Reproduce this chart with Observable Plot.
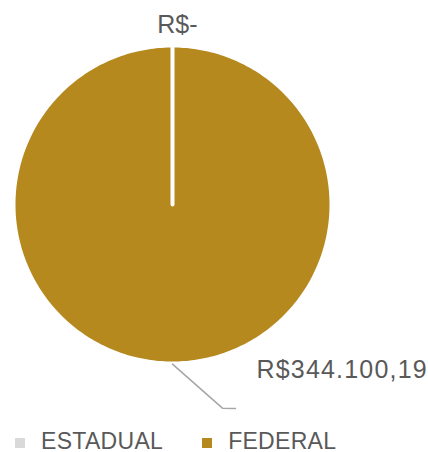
<!DOCTYPE html>
<html><head><meta charset="utf-8">
<script src="https://cdn.jsdelivr.net/npm/d3@7"></script>
<script src="https://cdn.jsdelivr.net/npm/@observablehq/plot@0.6"></script>
<style>
html,body{margin:0;padding:0;background:#fff;}
#chart{width:428px;height:452px;overflow:hidden;font-family:"Liberation Sans",Arial,sans-serif;}
#legend{display:flex;align-items:center;height:28px;margin-top:3px;margin-left:15px;font-size:23px;color:#595959;letter-spacing:0.3px;}
#legend .item{display:flex;align-items:center;margin-right:39px;}
#legend .sw{width:10px;height:10px;margin-right:16px;margin-top:4px;}
</style>
</head><body><div id="chart"></div>
<script>
const categorias = ["ESTADUAL", "FEDERAL"];
const valores = [0, 344100.19];
const rotulos = ["R$-", "R$344.100,19"];
const cores = ["#D9D9D9", "#B5891E"];

const pie = d3.pie().sort(null).value(d => d.valor)(categorias.map((c, i) => ({cat: c, valor: valores[i], rotulo: rotulos[i]})));

function ring(cat, a0, a1) {
  const pts = [{cat, x: 0, y: 0}];
  const n = Math.max(2, Math.ceil((a1 - a0) / (Math.PI / 180)));
  for (let k = 0; k <= n; k++) {
    const a = a0 + (a1 - a0) * k / n;
    pts.push({cat, x: Math.sin(a), y: Math.cos(a)});
  }
  pts.push({cat, x: 0, y: 0});
  return pts;
}
const slicePts = pie.flatMap(p => ring(p.data.cat, p.startAngle, p.endAngle));

const labels = pie.map(p => ({m: (p.startAngle + p.endAngle) / 2, text: p.data.rotulo, zero: p.value === 0}));
const topLabel = labels.filter(d => d.zero).map(d => ({x: Math.sin(d.m) + 0.031, y: Math.cos(d.m) * 1.129, text: d.text}));
const bigLabel = labels.filter(d => !d.zero).map(d => ({x: Math.sin(d.m) + 0.528, y: Math.cos(d.m) * 1.044, text: d.text}));
const leader = labels.filter(d => !d.zero).flatMap(d => {
  const sx = Math.sin(d.m), sy = Math.cos(d.m);
  return [{x: sx * 1.004, y: sy * 1.004}, {x: sx + 0.314, y: sy * 1.281}, {x: sx + 0.396, y: sy * 1.283}];
});

const plot = Plot.plot({
  width: 428,
  height: 424,
  marginLeft: 13, marginRight: 97, marginTop: 45, marginBottom: 61,
  x: {domain: [-1, 1], axis: null},
  y: {domain: [-1, 1], axis: null},
  color: {domain: categorias, range: cores},
  style: {fontFamily: "'Liberation Sans', Arial, sans-serif", overflow: "visible"},
  marks: [
    Plot.line(slicePts, {x: "x", y: "y", z: "cat", fill: "cat", stroke: "white", strokeWidth: 4, strokeLinejoin: "round"}),
    Plot.line(leader, {x: "x", y: "y", stroke: "#A6A6A6", strokeWidth: 1.5}),
    Plot.text(topLabel, {x: "x", y: "y", text: "text", fontSize: 25, fill: "#595959", textAnchor: "middle"}),
    Plot.text(bigLabel, {x: "x", y: "y", text: "text", fontSize: 25, fill: "#595959", textAnchor: "start"})
  ]
});
d3.select(plot).selectAll("text").filter(function() { return this.textContent === rotulos[1]; }).attr("letter-spacing", "1.2px");
const el = document.getElementById("chart");
el.appendChild(plot);
const leg = document.createElement("div");
leg.id = "legend";
categorias.forEach((c, i) => {
  const it = document.createElement("div");
  it.className = "item";
  const sw = document.createElement("span");
  sw.className = "sw";
  sw.style.background = plot.scale("color").apply(c);
  it.appendChild(sw);
  it.appendChild(document.createTextNode(c));
  leg.appendChild(it);
});
el.appendChild(leg);
</script></body></html>
